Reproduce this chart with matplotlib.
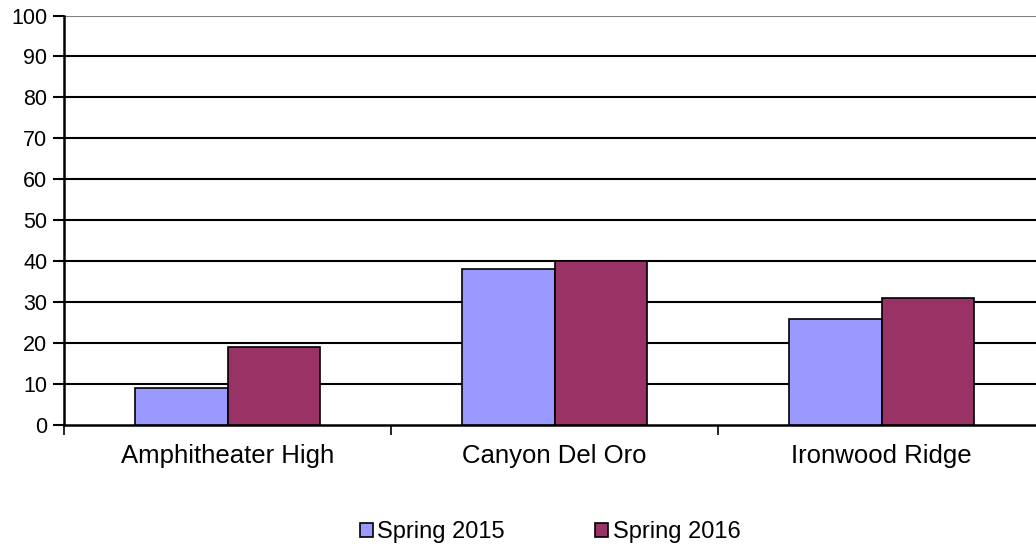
import numpy as np
import matplotlib
matplotlib.use("Agg")
import matplotlib.pyplot as plt
from matplotlib.patches import Patch

plt.rcParams['font.family'] = ['Liberation Sans', 'DejaVu Sans']

schools = ["Amphitheater High", "Canyon Del Oro", "Ironwood Ridge"]
spring_2015 = [9, 38, 26]
spring_2016 = [19, 40, 31]
series_names = ["Spring 2015", "Spring 2016"]
colors = ["#9999FF", "#993366"]

fig = plt.figure(figsize=(10.36, 5.49), dpi=100)
ax = fig.add_axes([64/1036, 1-425/549, 981/1036, 409.5/549])

x = np.arange(len(schools))
w = 0.284
ax.bar(x - w/2, spring_2015, w, color=colors[0], edgecolor='black', linewidth=1.2, zorder=3)
ax.bar(x + w/2, spring_2016, w, color=colors[1], edgecolor='black', linewidth=1.2, zorder=3)

ax.set_xlim(-0.5, 2.5)
ax.set_ylim(0, 100)
ax.set_yticks(range(0, 101, 10))
for yv in range(10, 101, 10):
    ax.axhline(yv, color='black' if yv < 100 else '#808080', linewidth=1.5, zorder=1)

ax.set_xticks(x)
ax.set_xticklabels(schools, fontsize=18.5)
ax.set_xticks([-0.5, 0.5, 1.5, 2.5], minor=True)
ax.tick_params(axis='x', which='major', length=0, pad=14)
ax.tick_params(axis='x', which='minor', length=7, width=1.2, color='black')
ax.tick_params(axis='y', length=8, width=1.5, labelsize=15.5, pad=4)

for s in ['top', 'right']:
    ax.spines[s].set_visible(False)
ax.spines['left'].set_linewidth(1.8)
ax.spines['bottom'].set_linewidth(1.8)

handles = [Patch(facecolor=c, edgecolor='black', linewidth=1.2) for c in colors]
fig.legend(handles, series_names, loc='center', bbox_to_anchor=(550/1036, 1-532/549),
           ncol=2, frameon=False, fontsize=17, handlelength=0.55, handleheight=0.55,
           handletextpad=0.2, columnspacing=3.8, borderpad=0, borderaxespad=0)

fig.savefig("out.png", dpi=100)
